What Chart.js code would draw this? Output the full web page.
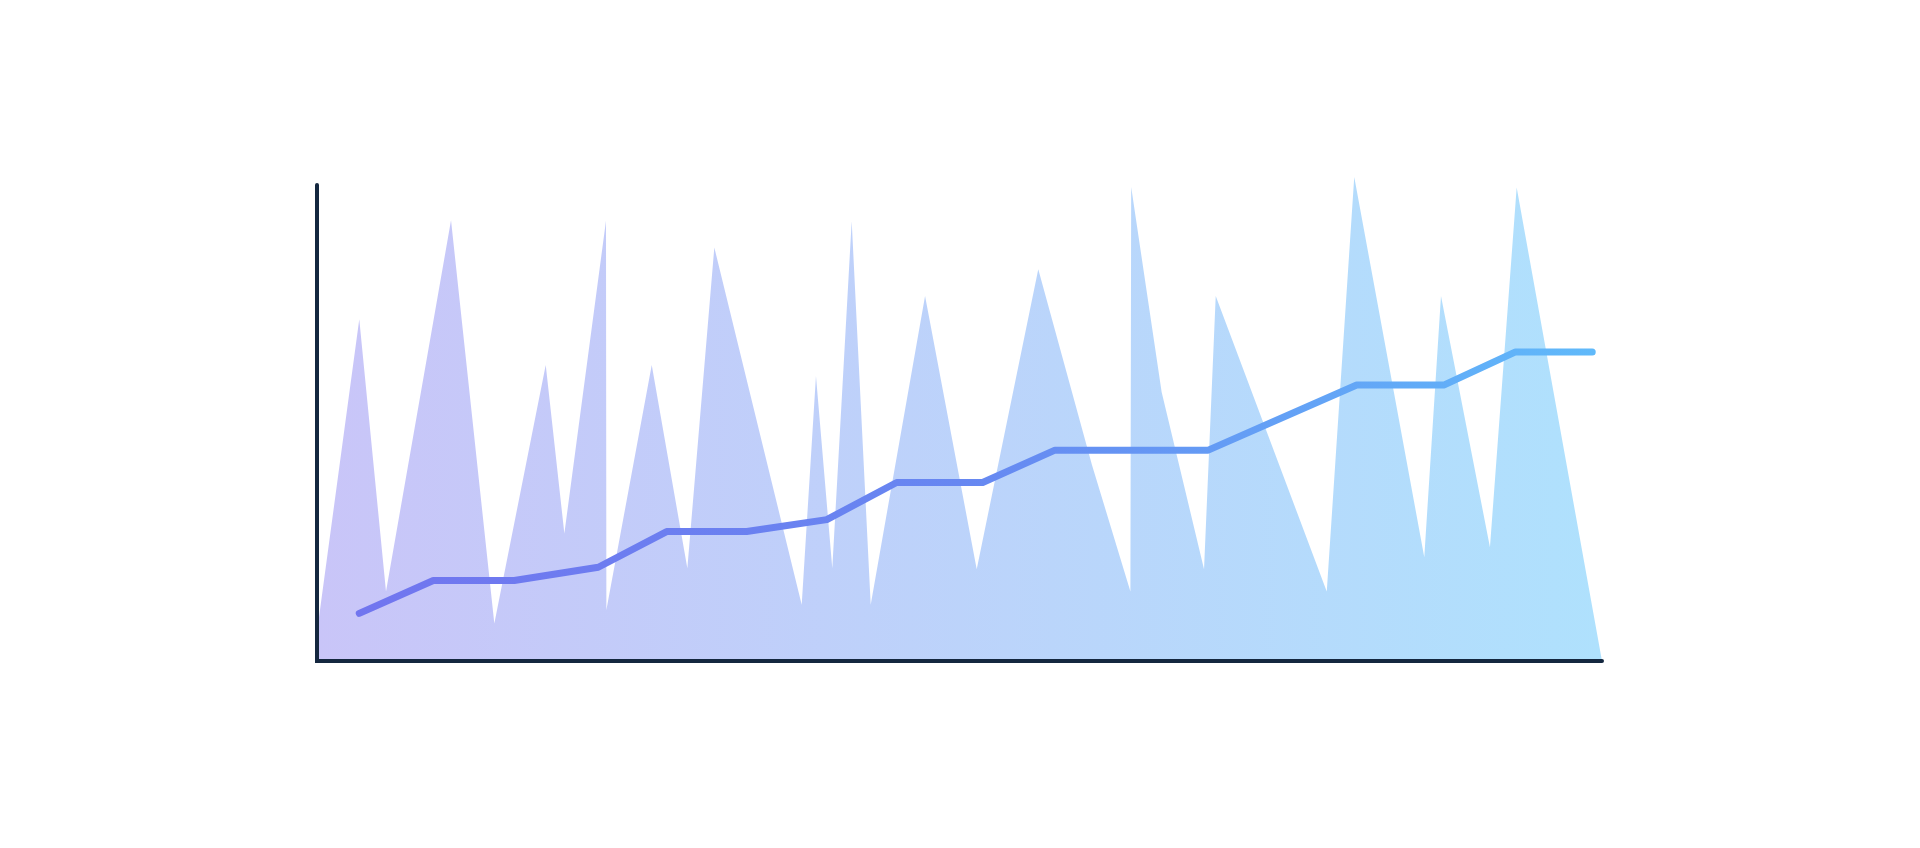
<!DOCTYPE html>
<html>
<head>
<meta charset="utf-8">
<script src="https://cdn.jsdelivr.net/npm/chart.js@4/dist/chart.umd.min.js"></script>
<style>
  html, body { margin: 0; padding: 0; background: #ffffff; }
  #wrap { width: 1920px; height: 848px; position: relative; }
</style>
</head>
<body>
<div id="wrap"><canvas id="c"></canvas></div>
<script>
// ---- data ----
const areaX = [0, 3.29, 5.37, 10.43, 13.80, 17.80, 19.25, 22.49, 22.52, 26.05, 28.82, 30.92, 37.72, 38.83, 40.10, 41.61, 43.09, 47.32, 51.34, 56.13, 60.31, 63.30, 63.36, 65.73, 69.03, 69.94, 78.58, 80.72, 86.17, 87.47, 91.28, 93.36, 100];
const areaY = [6.1, 71.8, 14.6, 92.6, 7.9, 62.2, 26.8, 92.5, 10.7, 62.2, 19.5, 86.9, 11.8, 59.9, 19.5, 92.4, 11.8, 76.7, 19.3, 82.3, 41.2, 14.6, 99.6, 56.5, 19.3, 76.7, 14.6, 101.7, 21.8, 76.7, 23.9, 99.5, 0];

const lineX = [3.29, 9.05, 15.35, 21.89, 27.21, 33.44, 39.67, 45.11, 51.80, 57.43, 69.36, 80.91, 87.73, 93.23, 99.24];
const lineY = [10.0, 16.9, 16.9, 19.7, 27.2, 27.2, 29.7, 37.5, 37.5, 44.3, 44.3, 58.0, 58.0, 64.9, 64.9];

const xRange = [0, 100];
const yRange = [0, 104];
const yAxisTop = 100;

const areaColors = [[0, 'rgb(201,197,248)'], [1, 'rgb(175,225,253)']];
const lineColors = [[0, '#7274ef'], [0.5, '#6787f1'], [1, '#60bafa']];
const axisColor = '#14273f';

// ---- helpers ----
function hGradient(chart, stops) {
  const a = chart.chartArea;
  if (!a) return stops[0][1];
  const g = chart.ctx.createLinearGradient(a.left, 0, a.right, 0);
  stops.forEach(([p, c]) => g.addColorStop(p, c));
  return g;
}

const axisLines = {
  id: 'axisLines',
  afterDatasetsDraw(chart) {
    const { ctx, scales } = chart;
    const x0 = scales.x.getPixelForValue(xRange[0]);
    const x1 = scales.x.getPixelForValue(xRange[1]);
    const y0 = scales.y.getPixelForValue(yRange[0]);
    const y1 = scales.y.getPixelForValue(yAxisTop);
    ctx.save();
    ctx.strokeStyle = axisColor;
    ctx.lineWidth = 4;
    ctx.lineCap = 'round';
    ctx.lineJoin = 'miter';
    ctx.beginPath();
    ctx.moveTo(x0, y1);
    ctx.lineTo(x0, y0);
    ctx.lineTo(x1, y0);
    ctx.stroke();
    ctx.restore();
  }
};

const areaData = areaX.map((x, i) => ({ x, y: areaY[i] }));
const lineData = lineX.map((x, i) => ({ x, y: lineY[i] }));

new Chart(document.getElementById('c'), {
  type: 'line',
  data: {
    datasets: [
      {
        label: 'trend',
        data: lineData,
        borderColor: (ctx) => hGradient(ctx.chart, lineColors),
        borderWidth: 7,
        borderCapStyle: 'round',
        borderJoinStyle: 'round',
        pointRadius: 0,
        tension: 0,
        fill: false,
        clip: false
      },
      {
        label: 'values',
        data: areaData,
        backgroundColor: (ctx) => hGradient(ctx.chart, areaColors),
        borderWidth: 0,
        borderColor: 'rgba(0,0,0,0)',
        pointRadius: 0,
        tension: 0,
        fill: 'origin',
        clip: false
      }
    ]
  },
  options: {
    responsive: true,
    maintainAspectRatio: false,
    animation: false,
    layout: { padding: { left: 317, right: 318, top: 166, bottom: 187 } },
    plugins: { legend: { display: false }, tooltip: { enabled: false } },
    scales: {
      x: { type: 'linear', min: xRange[0], max: xRange[1], display: false },
      y: { type: 'linear', min: yRange[0], max: yRange[1], display: false }
    }
  },
  plugins: [axisLines]
});
</script>
</body>
</html>
